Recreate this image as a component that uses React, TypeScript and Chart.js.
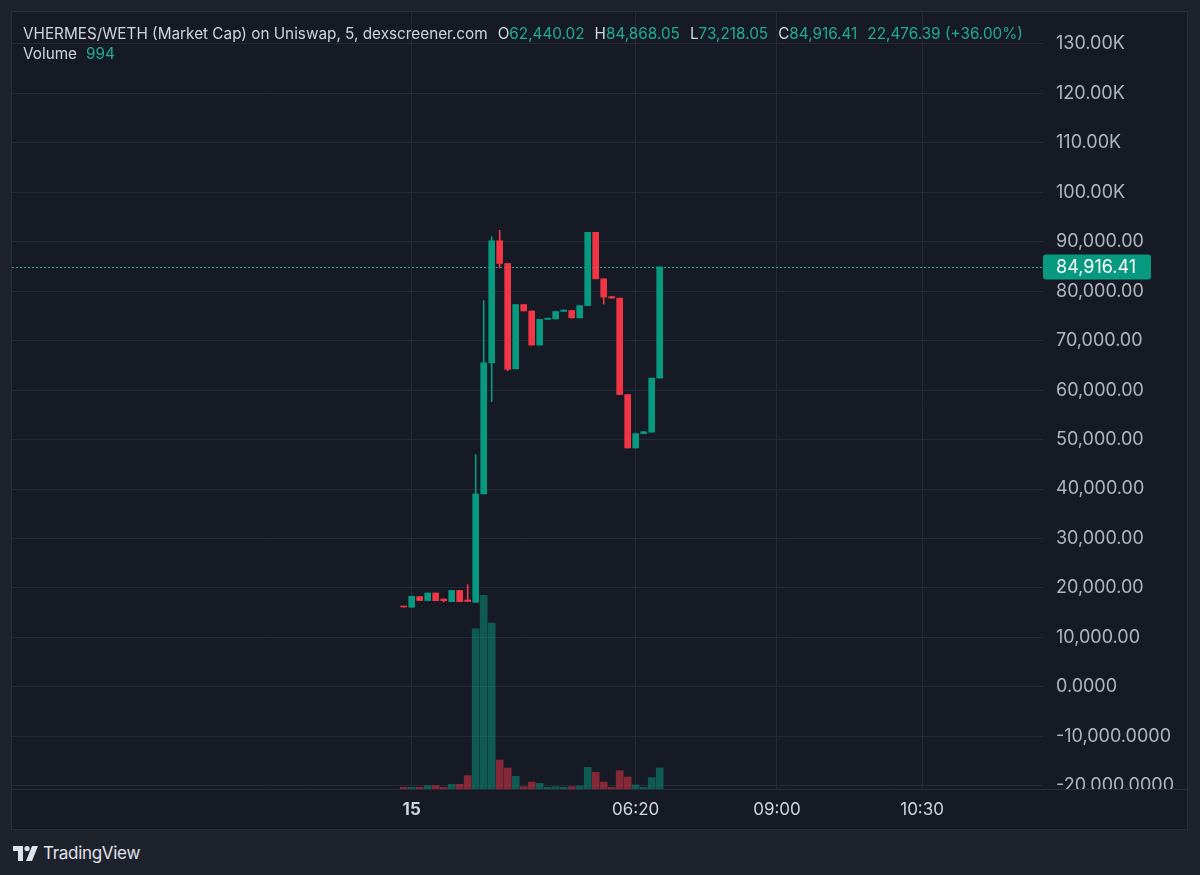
import React, { useEffect, useRef } from 'react';
import { Chart, registerables } from 'chart.js';

Chart.register(...registerables);

// ---- data (5-minute bars) ----
const barIndex = [0, 1, 2, 3, 4, 5, 6, 7, 8, 9, 10, 11, 12, 13, 14, 15, 16, 17, 18, 19, 20, 21, 22, 23, 24, 25, 26, 27, 28, 29, 30, 31, 32];
const opens = [16300, 16100, 18250, 17450, 18980, 17760, 17220, 19500, 17560, 17100, 39000, 65500, 90200, 85600, 64300, 77300, 76000, 69100, 74300, 74400, 75900, 76100, 74600, 77100, 91900, 82500, 78900, 78600, 59100, 48300, 51200, 51500, 62440.02];
const closes = [16150, 18300, 17450, 18980, 17430, 17420, 19500, 17220, 17270, 39000, 65500, 90200, 85600, 64200, 77300, 76000, 69100, 74300, 74550, 75900, 76200, 74600, 77100, 91900, 82500, 78800, 78600, 59100, 48300, 51200, 51600, 62440.02, 84916.41];
const highs = [16300, 18300, 18250, 18980, 18980, 17760, 19500, 19500, 20660, 46950, 78100, 91000, 92300, 85600, 77300, 77300, 76000, 74300, 74550, 75900, 76200, 76100, 77100, 91900, 91900, 82500, 78900, 78600, 59100, 51200, 51600, 62440.02, 84916.41];
const lows = [16150, 16100, 17450, 17450, 17430, 17160, 17220, 17220, 17270, 17100, 39000, 57700, 84700, 63900, 64300, 76000, 69100, 69100, 74300, 74400, 75900, 74600, 74600, 77100, 82500, 77400, 78600, 59100, 48300, 48300, 51200, 51500, 62440.02];
const volumes = [80, 80, 80, 160, 160, 80, 220, 220, 630, 7570, 9150, 7840, 1370, 990, 600, 110, 330, 270, 80, 110, 80, 110, 140, 1025, 790, 330, 80, 870, 570, 190, 80, 535, 994];

const headerHigh = 84868.05;
const headerLow = 73218.05;

const timeTickIndex = [1, 29, 46.66, 64.8];
const timeTickLabels = ['15', '06:20', '09:00', '10:30'];

const priceTickValues = [-20000, -10000, 0, 10000, 20000, 30000, 40000, 50000, 60000, 70000, 80000, 90000, 100000, 110000, 120000, 130000];
const priceTickLabels = ['-20,000.0000', '-10,000.0000', '0.0000', '10,000.00', '20,000.00', '30,000.00', '40,000.00', '50,000.00', '60,000.00', '70,000.00', '80,000.00', '90,000.00', '100.00K', '110.00K', '120.00K', '130.00K'];

// ---- styling ----
const PANEL_BG = '#161a25';
const OUTER_BG = '#1e222d';
const GRID = '#262a35';
const SEP = '#2a2e39';
const AXIS_TEXT = '#b2b5be';
const TEXT = '#d1d4dc';
const UP = '#089981';
const DOWN = '#f23645';
const UP_VOL = 'rgba(8,153,129,0.5)';
const DOWN_VOL = 'rgba(242,54,69,0.5)';
const VALUE_GREEN = '#22ab94';
const FONT = 'Inter, "Noto Sans", sans-serif';

const fmt2 = (v: number) => v.toLocaleString('en-US', { minimumFractionDigits: 2, maximumFractionDigits: 2 });

export default function App() {
  const ref = useRef<HTMLCanvasElement>(null);

  useEffect(() => {
    const isUp = barIndex.map((i) => closes[i] >= opens[i]);
    const lastClose = closes[closes.length - 1];

    const overlay = {
      id: 'overlay',
      beforeDatasetsDraw(chart: any) {
        const { ctx, chartArea, scales } = chart;
        const y = Math.round(scales.y.getPixelForValue(lastClose)) + 0.5;
        ctx.save();
        ctx.strokeStyle = VALUE_GREEN;
        ctx.lineWidth = 1;
        ctx.setLineDash([2, 2]);
        ctx.beginPath();
        ctx.moveTo(chartArea.left, y);
        ctx.lineTo(chartArea.right, y);
        ctx.stroke();
        ctx.restore();
      },
      afterDraw(chart: any) {
        const { ctx, chartArea, scales } = chart;
        ctx.save();
        // clip axis labels below the plot in the price-axis column
        ctx.fillStyle = PANEL_BG;
        ctx.fillRect(chartArea.right, chartArea.bottom, chart.width - chartArea.right, chart.height - chartArea.bottom);
        // separator line above time axis
        ctx.strokeStyle = SEP;
        ctx.lineWidth = 1;
        ctx.beginPath();
        ctx.moveTo(0, chartArea.bottom + 0.5);
        ctx.lineTo(chart.width, chartArea.bottom + 0.5);
        ctx.stroke();
        // last price label
        const y = scales.y.getPixelForValue(lastClose);
        const bx = chartArea.right;
        const bw = 108;
        const bh = 25;
        ctx.fillStyle = UP;
        ctx.beginPath();
        (ctx as any).roundRect(bx, y - bh / 2, bw, bh, 3);
        ctx.fill();
        ctx.fillStyle = '#ffffff';
        ctx.font = `18px ${FONT}`;
        ctx.textBaseline = 'middle';
        ctx.textAlign = 'left';
        ctx.fillText(fmt2(lastClose), bx + 13, y + 1);
        ctx.restore();
      },
    };

    const chart = new Chart(ref.current!, {
      type: 'bar',
      data: {
        datasets: [
          {
            label: 'body',
            data: barIndex.map((i) => ({ x: i, y: [opens[i], closes[i]] })) as any,
            backgroundColor: isUp.map((u) => (u ? UP : DOWN)),
            barThickness: 6,
            grouped: false,
            minBarLength: 1,
            borderWidth: 0,
            order: 1,
            yAxisID: 'y',
          },
          {
            label: 'wick',
            data: barIndex.map((i) => ({ x: i, y: [lows[i], highs[i]] })) as any,
            backgroundColor: isUp.map((u) => (u ? UP : DOWN)),
            barThickness: 1,
            grouped: false,
            borderWidth: 0,
            order: 2,
            yAxisID: 'y',
          },
          {
            label: 'volume',
            data: barIndex.map((i) => ({ x: i, y: volumes[i] })) as any,
            backgroundColor: isUp.map((u) => (u ? UP_VOL : DOWN_VOL)),
            barThickness: 7,
            grouped: false,
            borderWidth: 0,
            order: 3,
            yAxisID: 'yVol',
          },
        ],
      },
      options: {
        animation: false,
        responsive: true,
        maintainAspectRatio: false,
        layout: { padding: 0 },
        plugins: { legend: { display: false }, tooltip: { enabled: false } },
        scales: {
          x: {
            type: 'linear',
            min: -48.96,
            max: 79.91,
            offset: false,
            afterBuildTicks: (s: any) => {
              s.ticks = timeTickIndex.map((v) => ({ value: v }));
            },
            afterFit: (s: any) => {
              s.height = 40;
              s.paddingLeft = 0;
              s.paddingRight = 0;
            },
            grid: { color: GRID, drawTicks: false, offset: false },
            border: { display: false },
            ticks: {
              autoSkip: false,
              maxRotation: 0,
              padding: 11,
              color: TEXT,
              font: (c: any) => ({ family: FONT, size: 17, weight: c.index === 0 ? 'bold' : 'normal' }),
              callback: (_v: any, i: number) => timeTickLabels[i],
            },
          },
          y: {
            type: 'linear',
            position: 'right',
            min: -20650,
            max: 136450,
            afterBuildTicks: (s: any) => {
              s.ticks = priceTickValues.map((v) => ({ value: v }));
            },
            afterFit: (s: any) => {
              s.width = 144;
              s.paddingTop = 0;
              s.paddingBottom = 0;
            },
            grid: { color: GRID, drawTicks: false },
            border: { display: false },
            ticks: {
              autoSkip: false,
              padding: 13,
              color: AXIS_TEXT,
              font: { family: FONT, size: 18 },
              callback: (_v: any, i: number) => priceTickLabels[i],
            },
          },
          yVol: {
            type: 'linear',
            display: false,
            min: 0,
            max: 36730,
          },
        },
      } as any,
      plugins: [overlay],
    });
    return () => chart.destroy();
  }, []);

  const o = opens[opens.length - 1];
  const c = closes[closes.length - 1];
  const change = c - o;
  const pct = (change / o) * 100;

  return (
    <div style={{ position: 'fixed', left: 0, top: 0, width: 1200, height: 875, background: OUTER_BG, fontFamily: FONT, overflow: 'hidden' }}>
      <div style={{ position: 'absolute', left: 12, top: 12, width: 1175, height: 817, background: PANEL_BG, outline: `1px solid ${SEP}` }}>
        <div style={{ position: 'absolute', left: 0, top: 0, width: 1175, height: 817 }}>
          <canvas ref={ref} />
        </div>
        <div style={{ position: 'absolute', left: 11, top: 12, fontSize: 15.3, lineHeight: '20px', color: TEXT, whiteSpace: 'nowrap', pointerEvents: 'none' }}>
          <div>
            VHERMES/WETH (Market Cap) on Uniswap, 5, dexscreener.com
            <span style={{ marginLeft: 10 }}>O<span style={{ color: VALUE_GREEN }}>{fmt2(o)}</span></span>
            <span style={{ marginLeft: 10 }}>H<span style={{ color: VALUE_GREEN }}>{fmt2(headerHigh)}</span></span>
            <span style={{ marginLeft: 10 }}>L<span style={{ color: VALUE_GREEN }}>{fmt2(headerLow)}</span></span>
            <span style={{ marginLeft: 10 }}>C<span style={{ color: VALUE_GREEN }}>{fmt2(c)}</span></span>
            <span style={{ marginLeft: 10, color: VALUE_GREEN }}>{fmt2(change)} (+{pct.toFixed(2)}%)</span>
          </div>
          <div>
            Volume<span style={{ marginLeft: 9, color: VALUE_GREEN }}>{volumes[volumes.length - 1]}</span>
          </div>
        </div>
      </div>
      <div style={{ position: 'absolute', left: 13, top: 843, display: 'flex', alignItems: 'center', color: '#e0e3eb' }}>
        <svg width="26" height="15" viewBox="0 0 26 15" style={{ marginRight: 4 }}>
          <path d="M0 0 H10 V15 H5 V5 H0 Z" fill="#e0e3eb" />
          <circle cx="14" cy="2.6" r="2.6" fill="#e0e3eb" />
          <path d="M19 0 H25 L19 15 H13 Z" fill="#e0e3eb" />
        </svg>
        <span style={{ fontSize: 17, letterSpacing: -0.3 }}>TradingView</span>
      </div>
    </div>
  );
}
